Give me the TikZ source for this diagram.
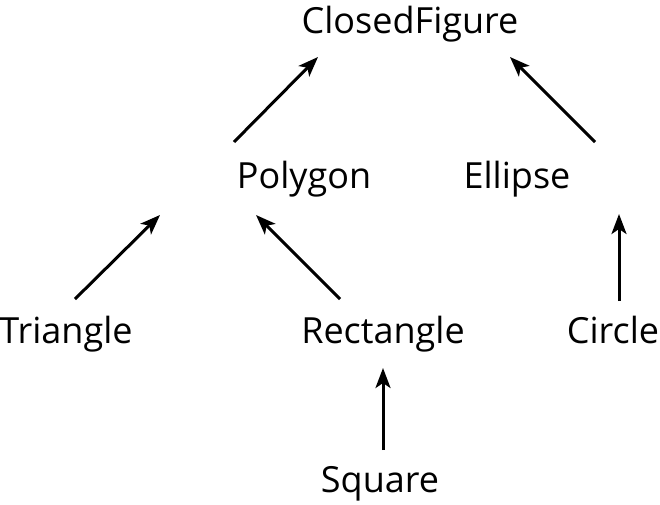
\documentclass[tikz,border=0pt]{standalone}
\usepackage{fontspec}
\setmainfont{Open Sans}
\usetikzlibrary{arrows.meta}
\begin{document}
\begin{tikzpicture}[x=1pt,y=-1pt,
  lbl/.style={anchor=base,inner sep=0pt,font=\fontsize{36}{42}\selectfont},
  arr/.style={line width=3pt,-{Stealth[length=20pt,width=15pt,inset=5pt]}}]
\useasboundingbox (0,0) rectangle (660,504);
\node[lbl] (cf) at (410,33) {ClosedFigure};
\node[lbl] (poly) at (304,188) {Polygon};
\node[lbl] (ell) at (517,188) {Ellipse};
\node[lbl] (tri) at (66,343) {Triangle};
\node[lbl] (rect) at (383,343) {Rectangle};
\node[lbl] (circ) at (613,343) {Circle};
\node[lbl] (sq) at (380,492) {Square};
\draw[arr] ([shift={(-70,-46)}]poly.base) -- ([shift={(-92,24)}]cf.base);
\draw[arr] ([shift={(78,-46)}]ell.base) -- ([shift={(100,24)}]cf.base);
\draw[arr] ([shift={(9,-44)}]tri.base) -- ([shift={(-144,27)}]poly.base);
\draw[arr] ([shift={(-43,-44)}]rect.base) -- ([shift={(-48,27)}]poly.base);
\draw[arr] ([shift={(6,-42)}]circ.base) -- ([shift={(102,26)}]ell.base);
\draw[arr] ([shift={(3,-42)}]sq.base) -- ([shift={(0,25)}]rect.base);
\end{tikzpicture}
\end{document}
